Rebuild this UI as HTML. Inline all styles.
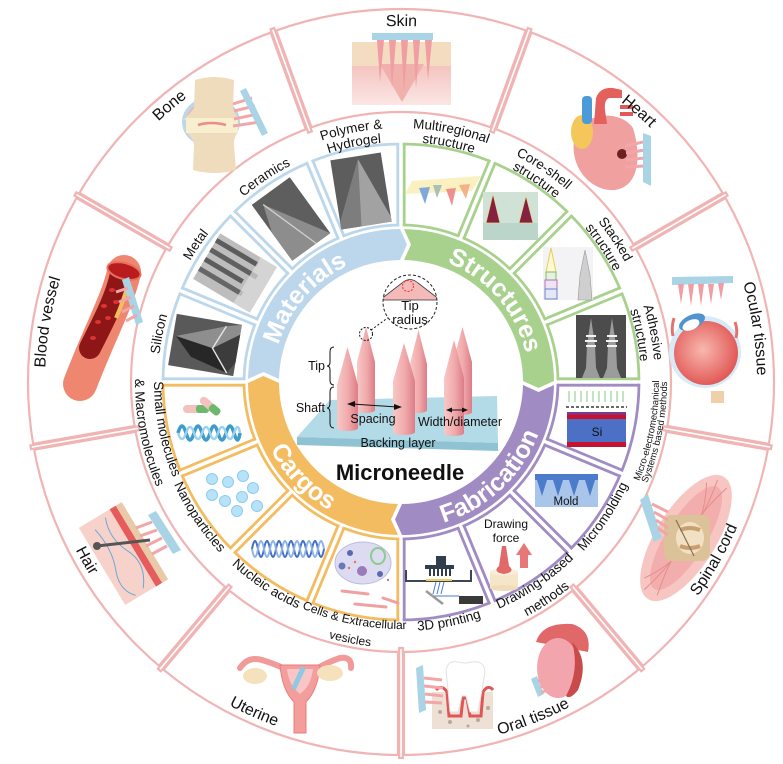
<!DOCTYPE html>
<html><head><meta charset="utf-8">
<style>
html,body{margin:0;padding:0;background:#fff;}
svg{display:block;}
text{font-family:"Liberation Sans",Arial,sans-serif;fill:#111;}
</style></head><body>
<svg width="783" height="764" viewBox="0 0 783 764" xmlns="http://www.w3.org/2000/svg">
<defs>
<path id="u243" d="M401,625A243,243 0 1 1 401,139A243,243 0 1 1 401,625"/>
<path id="u254" d="M401,636A254,254 0 1 1 401,128A254,254 0 1 1 401,636"/>
<path id="u240" d="M401,622A240,240 0 1 1 401,142A240,240 0 1 1 401,622"/>
<path id="u356" d="M401,738A356,356 0 1 1 401,26A356,356 0 1 1 401,738"/>
<path id="u128" d="M401,510A128,128 0 1 1 401,254A128,128 0 1 1 401,510"/>
<path id="l249" d="M401,133A249,249 0 1 0 401,631A249,249 0 1 0 401,133"/>
<path id="l247" d="M401,135A247,247 0 1 0 401,629A247,247 0 1 0 401,135"/>
<path id="l266" d="M401,116A266,266 0 1 0 401,648A266,266 0 1 0 401,116"/>
<path id="l258" d="M401,124A258,258 0 1 0 401,640A258,258 0 1 0 401,124"/>
<path id="l366" d="M401,16A366,366 0 1 0 401,748A366,366 0 1 0 401,16"/>
<path id="l147" d="M401,235A147,147 0 1 0 401,529A147,147 0 1 0 401,235"/>
<path id="band" d="M248,379 A153,153 0 0 1 400,229 L407,244.5 L400,260 A122,122 0 0 0 279,379 L263.5,372 Z"/>
<g id="od"><rect x="399.1" y="6" width="3.8" height="110" fill="#fff"/><line x1="398" y1="9" x2="398" y2="112"/><line x1="404" y1="9" x2="404" y2="112"/></g>
<linearGradient id="ng" x1="0" x2="1" y1="0" y2="0"><stop offset="0" stop-color="#f7c8c6"/><stop offset=".55" stop-color="#f0a9aa"/><stop offset="1" stop-color="#dc7d87"/></linearGradient>
<radialGradient id="eyeG" cx=".45" cy=".45" r=".6"><stop offset="0" stop-color="#f8b8b0"/><stop offset="1" stop-color="#e0524f"/></radialGradient>
<linearGradient id="skinG" x1="0" x2="0" y1="0" y2="1"><stop offset="0" stop-color="#f4c2be"/><stop offset="1" stop-color="#fbe6e4"/></linearGradient>
<clipPath id="tipc"><circle cx="410" cy="302" r="27"/></clipPath>
</defs>

<!-- organ ring -->
<g fill="none" stroke="#f1b4b4" stroke-width="2.2">
<circle cx="401" cy="382" r="373"/>
<circle cx="401" cy="382" r="270"/>
</g>
<g stroke="#f1b4b4" stroke-width="2.2">
<use href="#od" transform="rotate(-20 401 382)"/>
<use href="#od" transform="rotate(20 401 382)"/>
<use href="#od" transform="rotate(60 401 382)"/>
<use href="#od" transform="rotate(100 401 382)"/>
<use href="#od" transform="rotate(140 401 382)"/>
<use href="#od" transform="rotate(180 401 382)"/>
<use href="#od" transform="rotate(220 401 382)"/>
<use href="#od" transform="rotate(260 401 382)"/>
<use href="#od" transform="rotate(300 401 382)"/>
</g>

<!-- box arcs -->
<g fill="none" stroke-width="2.8">
<path d="M163,382A238,238 0 0 1 401,144M244,382A157,157 0 0 1 401,225" stroke="#bcd7ec"/>
<path d="M401,144A238,238 0 0 1 639,382M401,225A157,157 0 0 1 558,382" stroke="#a9d18e"/>
<path d="M639,382A238,238 0 0 1 401,620M558,382A157,157 0 0 1 401,539" stroke="#a08bc3"/>
<path d="M401,620A238,238 0 0 1 163,382M401,539A157,157 0 0 1 244,382" stroke="#f4bc61"/>
</g>
<g stroke-width="2.8">
<g transform="rotate(90 401 382)"><rect x="399.3" y="140" width="3.4" height="88" fill="#fff" stroke="none"/><line x1="397.8" y1="144" x2="397.8" y2="225" stroke="#a9d18e"/><line x1="404.2" y1="144" x2="404.2" y2="225" stroke="#a08bc3"/></g>
<g transform="rotate(112.5 401 382)"><rect x="399.3" y="140" width="3.4" height="88" fill="#fff" stroke="none"/><line x1="397.8" y1="144" x2="397.8" y2="225" stroke="#a08bc3"/><line x1="404.2" y1="144" x2="404.2" y2="225" stroke="#a08bc3"/></g>
<g transform="rotate(135 401 382)"><rect x="399.3" y="140" width="3.4" height="88" fill="#fff" stroke="none"/><line x1="397.8" y1="144" x2="397.8" y2="225" stroke="#a08bc3"/><line x1="404.2" y1="144" x2="404.2" y2="225" stroke="#a08bc3"/></g>
<g transform="rotate(157.5 401 382)"><rect x="399.3" y="140" width="3.4" height="88" fill="#fff" stroke="none"/><line x1="397.8" y1="144" x2="397.8" y2="225" stroke="#a08bc3"/><line x1="404.2" y1="144" x2="404.2" y2="225" stroke="#a08bc3"/></g>
<g transform="rotate(180 401 382)"><rect x="399.3" y="140" width="3.4" height="88" fill="#fff" stroke="none"/><line x1="397.8" y1="144" x2="397.8" y2="225" stroke="#a08bc3"/><line x1="404.2" y1="144" x2="404.2" y2="225" stroke="#f4bc61"/></g>
<g transform="rotate(202.5 401 382)"><rect x="399.3" y="140" width="3.4" height="88" fill="#fff" stroke="none"/><line x1="397.8" y1="144" x2="397.8" y2="225" stroke="#f4bc61"/><line x1="404.2" y1="144" x2="404.2" y2="225" stroke="#f4bc61"/></g>
<g transform="rotate(225 401 382)"><rect x="399.3" y="140" width="3.4" height="88" fill="#fff" stroke="none"/><line x1="397.8" y1="144" x2="397.8" y2="225" stroke="#f4bc61"/><line x1="404.2" y1="144" x2="404.2" y2="225" stroke="#f4bc61"/></g>
<g transform="rotate(247.5 401 382)"><rect x="399.3" y="140" width="3.4" height="88" fill="#fff" stroke="none"/><line x1="397.8" y1="144" x2="397.8" y2="225" stroke="#f4bc61"/><line x1="404.2" y1="144" x2="404.2" y2="225" stroke="#f4bc61"/></g>
<g transform="rotate(270 401 382)"><rect x="399.3" y="140" width="3.4" height="88" fill="#fff" stroke="none"/><line x1="397.8" y1="144" x2="397.8" y2="225" stroke="#f4bc61"/><line x1="404.2" y1="144" x2="404.2" y2="225" stroke="#bcd7ec"/></g>
<g transform="rotate(292.5 401 382)"><rect x="399.3" y="140" width="3.4" height="88" fill="#fff" stroke="none"/><line x1="397.8" y1="144" x2="397.8" y2="225" stroke="#bcd7ec"/><line x1="404.2" y1="144" x2="404.2" y2="225" stroke="#bcd7ec"/></g>
<g transform="rotate(315 401 382)"><rect x="399.3" y="140" width="3.4" height="88" fill="#fff" stroke="none"/><line x1="397.8" y1="144" x2="397.8" y2="225" stroke="#bcd7ec"/><line x1="404.2" y1="144" x2="404.2" y2="225" stroke="#bcd7ec"/></g>
<g transform="rotate(337.5 401 382)"><rect x="399.3" y="140" width="3.4" height="88" fill="#fff" stroke="none"/><line x1="397.8" y1="144" x2="397.8" y2="225" stroke="#bcd7ec"/><line x1="404.2" y1="144" x2="404.2" y2="225" stroke="#bcd7ec"/></g>
<g><rect x="399.3" y="140" width="3.4" height="88" fill="#fff" stroke="none"/><line x1="397.8" y1="144" x2="397.8" y2="225" stroke="#bcd7ec"/><line x1="404.2" y1="144" x2="404.2" y2="225" stroke="#a9d18e"/></g>
<g transform="rotate(22.5 401 382)"><rect x="399.3" y="140" width="3.4" height="88" fill="#fff" stroke="none"/><line x1="397.8" y1="144" x2="397.8" y2="225" stroke="#a9d18e"/><line x1="404.2" y1="144" x2="404.2" y2="225" stroke="#a9d18e"/></g>
<g transform="rotate(45 401 382)"><rect x="399.3" y="140" width="3.4" height="88" fill="#fff" stroke="none"/><line x1="397.8" y1="144" x2="397.8" y2="225" stroke="#a9d18e"/><line x1="404.2" y1="144" x2="404.2" y2="225" stroke="#a9d18e"/></g>
<g transform="rotate(67.5 401 382)"><rect x="399.3" y="140" width="3.4" height="88" fill="#fff" stroke="none"/><line x1="397.8" y1="144" x2="397.8" y2="225" stroke="#a9d18e"/><line x1="404.2" y1="144" x2="404.2" y2="225" stroke="#a9d18e"/></g>
</g>

<!-- bands -->
<use href="#band" fill="#bcd7ec"/>
<use href="#band" fill="#a9d18e" transform="rotate(90 401 382)"/>
<use href="#band" fill="#a08bc3" transform="rotate(180 401 382)"/>
<use href="#band" fill="#f4bc61" transform="rotate(270 401 382)"/>
<g font-size="25" font-weight="bold" style="fill:#fff">
<text style="fill:#fff"><textPath href="#u128" startOffset="292.7" text-anchor="middle">Materials</textPath></text>
<text style="fill:#fff"><textPath href="#u128" startOffset="511.6" text-anchor="middle">Structures</textPath></text>
<text style="fill:#fff"><textPath href="#l147" startOffset="572.1" text-anchor="middle">Fabrication</textPath></text>
<text style="fill:#fff"><textPath href="#l147" startOffset="343.8" text-anchor="middle">Cargos</textPath></text>
</g>

<!-- Materials images -->
<g transform="translate(205,345) rotate(9.6)">
<rect x="-33" y="-26" width="66" height="52" fill="#595959"/>
<polygon points="-30,-4 18,-22 33,-26 33,-16 8,2" fill="#8e8e8e"/>
<polygon points="-30,-4 8,2 26,24 -12,14" fill="#272727"/>
<polygon points="8,2 33,-16 33,12 26,24" fill="#3c3c3c"/>
<polyline points="18,-22 8,2 26,24" fill="none" stroke="#e6e6e6" stroke-width="1.4"/>
</g>
<g transform="translate(235,273) rotate(30.8)">
<rect x="-33" y="-26.5" width="66" height="53" fill="#bdbdbd"/>
<rect x="-33" y="-21" width="48" height="5" fill="#5c5c5c"/>
<rect x="-33" y="-10" width="54" height="5" fill="#606060"/>
<rect x="-33" y="1" width="44" height="5" fill="#5c5c5c"/>
<rect x="-33" y="12" width="50" height="5" fill="#666"/>
<rect x="14" y="-26.5" width="19" height="53" fill="#dedede" opacity=".7"/>
</g>
<g transform="translate(291,219) rotate(-36)">
<rect x="-23.5" y="-34.5" width="47" height="69" fill="#5e5e5e"/>
<polygon points="-14,-28 23.5,34.5 -23.5,34.5 -23.5,0" fill="#8d8d8d"/>
<line x1="-14" y1="-28" x2="6" y2="34.5" stroke="#d0d0d0" stroke-width="1.3"/>
</g>
<g transform="translate(361,191) rotate(-9)">
<rect x="-25.5" y="-35" width="51" height="70" fill="#5d5d5d"/>
<polygon points="2,-32 25.5,30 25.5,35 -25.5,35 -25.5,28" fill="#a2a2a2"/>
<polygon points="2,-32 -25.5,28 -25.5,35 -5,35" fill="#7d7d7d"/>
</g>

<!-- Structures images -->
<polygon points="412,181 481,176 472,191 405,194" fill="#fbf0bf"/>
<polygon points="419,188 430,187 425,204" fill="#7fa8dc"/>
<polygon points="433,185 442,185 437,198" fill="#a9c0b4"/>
<polygon points="446,189 456,188 452,206" fill="#ee9090"/>
<polygon points="459,185 470,184 466,199" fill="#f3b28a"/>
<rect x="483" y="192" width="55" height="48" fill="#d0e2d6"/>
<rect x="483" y="223" width="55" height="17" fill="#bcd5cb"/>
<polygon points="493,194 486,223 500,223" fill="#85203e" stroke="#e3d790" stroke-width=".7"/>
<polygon points="526,196 519,223 533,223" fill="#85203e" stroke="#e3d790" stroke-width=".7"/>
<rect x="543" y="247" width="50" height="53" fill="#f3f3f5"/>
<polygon points="551,248 546,272 556,272" fill="#fff8d4" stroke="#e5d050"/>
<rect x="546" y="272" width="10" height="8" fill="#e8f0e0" stroke="#7ac060"/>
<rect x="545" y="280" width="12" height="9" fill="#eee4f0" stroke="#b070c0"/>
<rect x="545" y="289" width="12" height="10" fill="#e4e8f4" stroke="#7080d0"/>
<path d="M585,250 L580,275 L578,300 L592,300 L590,275 Z" fill="#cfcfcf" stroke="#9a9a9a" stroke-width=".6"/>
<rect x="576" y="315" width="50" height="63" fill="#4c4c4c"/>
<path d="M591,318 L587,345 L586,368 L582,378 L600,378 L596,368 L595,345 Z" fill="#9c9c9c"/>
<path d="M612,318 L608,345 L607,368 L603,378 L621,378 L617,368 L616,345 Z" fill="#9c9c9c"/>
<path d="M586,336h10M585,341h12M586,346h10M607,336h10M606,341h12M607,346h10" stroke="#f4f4f4" stroke-width="2"/>

<!-- Fabrication images -->
<path d="M569,391v11M575,391v11M581,391v11M587,391v11M593,391v11M599,391v11M605,391v11M611,391v11M617,391v11M623,391v11" stroke="#7ac47a" stroke-width=".9"/>
<line x1="566" y1="407" x2="627" y2="407" stroke="#111" stroke-dasharray="3,2" stroke-width="1.2"/>
<rect x="567" y="412" width="59" height="2.5" fill="#7a3b96"/>
<rect x="567" y="414.5" width="59" height="4.5" fill="#c4122f"/>
<rect x="567" y="419" width="59" height="23" fill="#4b70c6"/>
<rect x="567" y="442" width="59" height="5" fill="#c4122f"/>
<text x="597" y="436" font-size="12" text-anchor="middle">Si</text>
<rect x="535" y="474" width="63" height="33" fill="#a9c6ea"/>
<polygon points="535,474 598,474 598,480 595,480 590,496 585,480 579,480 574,496 569,480 563,480 558,496 553,480 547,480 542,496 537,480 535,480" fill="#4d7bcc"/>
<text x="566" y="505" font-size="11.5" text-anchor="middle">Mold</text>
<text x="506" y="528" font-size="12" text-anchor="middle">Drawing</text>
<text x="506" y="542" font-size="12" text-anchor="middle">force</text>
<rect x="490" y="572" width="28" height="16" fill="#f6e6c8"/>
<ellipse cx="504" cy="588" rx="14" ry="3" fill="#f0dcb8"/>
<ellipse cx="504" cy="572" rx="14" ry="3.5" fill="#f8eed8"/>
<path d="M502,546 L506,546 L509,566 Q516,572 504,574 Q492,572 499,566 Z" fill="#e06a6a"/>
<rect x="520" y="553" width="8" height="15" fill="#e87878"/>
<polygon points="516,555 532,555 524,543" fill="#e87878"/>
<rect x="436" y="556" width="10" height="9" fill="#2f3d4c"/>
<rect x="425" y="565" width="29" height="4" fill="#2f3d4c"/>
<path d="M430,569v7M434,569v7M438,569v7M442,569v7M446,569v7M450,569v7" stroke="#2f3d4c" stroke-width="2"/>
<path d="M406,570 V581 H471 V570" fill="none" stroke="#3b4656" stroke-width="2"/>
<line x1="426" y1="580" x2="452" y2="580" stroke="#f2d060" stroke-width="2"/>
<path d="M433,594 L436,582M437,594 L440,582M441,594 L444,582M432,596 H459" stroke="#4a7ad8" stroke-width="1"/>
<line x1="426" y1="591" x2="443" y2="604" stroke="#9a9a9a" stroke-width="2.5"/>
<rect x="459" y="596" width="24" height="8" fill="#3a3a3a"/>

<!-- Cargos images -->
<rect x="183" y="405" width="26" height="8" rx="4" fill="#f3c2bd"/>
<rect x="196" y="405" width="13" height="8" rx="3" fill="#6cb86c"/>
<g transform="rotate(40 210 406)"><rect x="198" y="402" width="24" height="8" rx="4" fill="#f3c2bd"/><rect x="210" y="402" width="12" height="8" rx="3" fill="#6cb86c"/></g>
<path d="M178,433 q4,-14 8,0 t8,0 t8,0 t8,0 t8,0 t8,0 t8,0 t6,0" fill="none" stroke="#3e9cc8" stroke-width="3.5"/>
<path d="M178,433 q4,12 8,0 t8,0 t8,0 t8,0 t8,0 t8,0 t8,0 t6,0" fill="none" stroke="#9ad2ec" stroke-width="2.5"/>
<g fill="#b8e2f8" stroke="#8cccef" stroke-width="1">
<circle cx="212" cy="479" r="5.5"/><circle cx="228" cy="482" r="5.5"/><circle cx="243" cy="476" r="5.5"/>
<circle cx="253" cy="488" r="5.5"/><circle cx="212" cy="495" r="5.5"/><circle cx="225" cy="501" r="5.5"/>
<circle cx="242" cy="497" r="5.5"/><circle cx="257" cy="506" r="5.5"/><circle cx="237" cy="511" r="5.5"/>
</g>
<path d="M252,549 q3,-16 6,0 t6,0 t6,0 t6,0 t6,0 t6,0 t6,0 t6,0 t6,0 t6,0 t6,0 t6,0" fill="none" stroke="#3f6fc4" stroke-width="2"/>
<path d="M252,549 q3,16 6,0 t6,0 t6,0 t6,0 t6,0 t6,0 t6,0 t6,0 t6,0 t6,0 t6,0 t6,0" fill="none" stroke="#8fb2e4" stroke-width="2"/>
<ellipse cx="363" cy="563" rx="28" ry="21" fill="#dcdbf2" stroke="#bdbde0"/>
<circle cx="350" cy="553" r="3" fill="#5a6ab0"/><circle cx="362" cy="571" r="5" fill="#9a7ab8"/>
<circle cx="342" cy="566" r="3.5" fill="#6a78b8"/><circle cx="380" cy="574" r="3" fill="#5a6ab0"/>
<ellipse cx="378" cy="556" rx="7" ry="8" fill="none" stroke="#8ccc8c" stroke-width="2"/>
<circle cx="355" cy="562" r="1.2" fill="#e87060"/><circle cx="349" cy="568" r="1.2" fill="#e87060"/><circle cx="388" cy="580" r="1.2" fill="#e87060"/>
<path d="M342,591 L368,594 M355,604 L386,607 M383,598 L398,603" stroke="#f0a0a0" stroke-width="3" stroke-linecap="round"/>

<!-- Organ images -->
<!-- Skin -->
<rect x="352" y="64" width="99" height="41" fill="url(#skinG)"/>
<rect x="352" y="42" width="99" height="24" fill="#f3dcbf"/>
<path d="M380,64 L402,102 L424,64 Z" fill="#f0b1ad"/>
<rect x="372" y="33" width="61" height="7" fill="#a8d4e6"/>
<g fill="#ef9ea3"><polygon points="377,40 384,40 380,82"/><polygon points="389,40 396,40 392,88"/><polygon points="401,40 408,40 404,92"/><polygon points="413,40 420,40 416,88"/><polygon points="425,40 432,40 428,80"/></g>
<!-- Bone -->
<ellipse cx="211" cy="122" rx="29" ry="25" fill="#bcd6ec"/>
<ellipse cx="211" cy="122" rx="25" ry="21" fill="#f3b2ae"/>
<path d="M195,80 Q214,74 234,80 L233,108 Q236,116 240,120 L183,120 Q190,114 194,108 Z" fill="#efdcbc"/>
<path d="M186,132 L238,132 Q233,139 234,146 L236,170 Q214,176 193,170 L194,146 Q194,139 186,132 Z" fill="#efdcbc"/>
<rect x="186" y="118" width="52" height="15" fill="#f8efcf"/>
<path d="M198,125 Q211,121 226,125" stroke="#ee8a8a" stroke-width="2.5" fill="none"/>
<path d="M233,104 L252,98 M234,111 L255,106 M234,119 L258,114 M233,126 L260,122" stroke="#f2a6a8" stroke-width="3"/>
<polygon points="240,91 246,88 268,133 262,136" fill="#a8d4e6"/>
<!-- Heart -->
<path d="M576,132 C566,162 588,192 615,190 C642,186 640,150 633,128 C620,110 588,112 576,132 Z" fill="#f1a0a0"/>
<ellipse cx="582" cy="132" rx="11" ry="17" fill="#f4c75a"/>
<rect x="582" y="96" width="10" height="28" rx="4" fill="#4b9bd9"/>
<path d="M594,124 L596,98 Q600,87 613,88 L622,90 L622,98 L609,98 Q604,100 605,110 L607,124 Z" fill="#e4605c"/>
<rect x="620" y="105" width="13" height="4" fill="#e05a5a"/><rect x="620" y="112" width="13" height="4" fill="#e05a5a"/>
<circle cx="622" cy="154" r="5" fill="#6a2020"/>
<path d="M625,146 L643,142 M626,153 L645,150 M626,160 L645,158 M625,167 L645,166" stroke="#f2a6a8" stroke-width="3"/>
<polygon points="643,133 651,136 651,186 643,182" fill="#a8d4e6"/>
<!-- Ocular -->
<circle cx="705" cy="352" r="36" fill="#d6ebf7"/>
<circle cx="706" cy="353" r="32" fill="url(#eyeG)"/>
<ellipse cx="692" cy="322" rx="14" ry="7" fill="#4f94d0" transform="rotate(-25 692 322)"/>
<ellipse cx="691" cy="325" rx="9" ry="5" fill="#fff" transform="rotate(-25 691 325)"/>
<rect x="711" y="391" width="13" height="12" fill="#f0d0a8"/>
<polygon points="672,277 733,276 733,283 672,285" fill="#a8d4e6"/>
<g fill="#ef9ea3"><polygon points="678,284 684,284 681,304"/><polygon points="688,284 694,284 691,306"/><polygon points="698,284 704,284 701,306"/><polygon points="708,284 714,284 711,304"/><polygon points="718,283 724,283 721,300"/></g>
<path d="M674,318 Q671,328 673,336 M735,322 Q738,330 736,338" stroke="#e57070" stroke-width="3" fill="none"/>
<!-- Spinal cord -->
<g transform="rotate(-58 686 538)">
<ellipse cx="686" cy="538" rx="72" ry="30" fill="#f6c0bc" opacity=".9"/>
<ellipse cx="686" cy="538" rx="60" ry="20" fill="#f0a4a2" opacity=".7"/>
<path d="M620,530 Q686,548 752,534 M622,544 Q686,528 750,546 M630,524 Q686,560 744,526" stroke="#e88c8c" stroke-width="1" fill="none"/>
</g>
<rect x="664" y="515" width="46" height="46" rx="8" fill="#dcc298"/>
<ellipse cx="690" cy="538" rx="14" ry="16" fill="#f2e0c4"/>
<path d="M680,530 Q690,526 700,530 M680,546 Q690,550 700,546" stroke="#c8a070" stroke-width="4" fill="none"/>
<line x1="676" y1="520" x2="694" y2="556" stroke="#8a7050" stroke-width="1.2"/>
<polygon points="640,500 648,494 662,538 654,542" fill="#a8d4e6"/>
<path d="M652,504 L668,512 M654,512 L668,520 M656,520 L668,528 M658,528 L668,535" stroke="#f2a6a8" stroke-width="3"/>
<!-- Oral tissue -->
<rect x="432" y="692" width="61" height="37" fill="#eee0d4"/>
<g fill="#bba89a"><circle cx="440" cy="712" r="2"/><circle cx="450" cy="722" r="2"/><circle cx="478" cy="720" r="2"/><circle cx="488" cy="708" r="2"/><circle cx="468" cy="726" r="1.5"/></g>
<path d="M436,690 Q442,684 447,692 L449,716 L461,716 L463,698 L467,698 L470,716 L481,716 L483,692 Q488,684 493,690" fill="none" stroke="#e05555" stroke-width="3"/>
<path d="M446,670 Q448,660 458,662 Q465,664 472,662 Q484,660 485,672 L482,690 L478,712 L470,712 L466,696 L462,696 L458,712 L450,712 L448,690 Z" fill="#fff" stroke="#e2e2e2"/>
<polygon points="416,668 423,665 426,710 419,713" fill="#a8d4e6"/>
<path d="M424,678 L442,680 M424,686 L443,688 M425,694 L443,696 M425,702 L442,703" stroke="#f2a6a8" stroke-width="3"/>
<path d="M536,642 Q542,622 572,624 Q592,630 588,652 Z" fill="#e06868"/>
<ellipse cx="558" cy="668" rx="21" ry="30" fill="#f2a5ad"/>
<path d="M572,642 Q590,660 578,690 Q570,700 566,696 Q580,670 572,642 Z" fill="#c94a4a"/>
<polygon points="531,679 537,676 544,694 538,697" fill="#a8d4e6"/>
<path d="M538,681 L552,677 M540,687 L553,684 M541,692 L553,690" stroke="#f2a6a8" stroke-width="2.5"/>
<!-- Uterine -->
<path d="M240,668 Q248,656 262,660 Q275,664 283,668 M318,668 Q328,662 340,658 Q352,656 351,668" fill="none" stroke="#f29a9a" stroke-width="6" stroke-linecap="round"/>
<path d="M280,665 L320,665 Q318,690 306,702 L306,733 L294,733 L294,702 Q282,690 280,665 Z" fill="#f39d9d" stroke="#e87c7c"/>
<path d="M287,669 L313,669 Q311,686 300,694 Q289,686 287,669 Z" fill="#f8c6c6"/>
<ellipse cx="255" cy="676" rx="12" ry="8" fill="#f5e2bc"/>
<ellipse cx="330" cy="673" rx="13" ry="8" fill="#f5e2bc"/>
<rect x="296" y="666" width="5" height="24" fill="#8fc8e0" transform="rotate(25 298 678)"/>
<!-- Hair -->
<g transform="translate(126,552) rotate(59)">
<rect x="-45" y="-22" width="90" height="50" fill="#f7d2ca"/>
<rect x="-45" y="-22" width="90" height="7" fill="#e8c9a8"/>
<rect x="-45" y="-15" width="90" height="7" fill="#e65b5b"/>
<path d="M-40,0 Q-20,8 0,-2 T40,4 M-35,15 Q-10,10 10,18 T42,14" stroke="#6aa8d8" stroke-width="1" fill="none"/>
</g>
<line x1="97" y1="546" x2="150" y2="540" stroke="#555" stroke-width="3"/>
<circle cx="97" cy="546" r="4" fill="#555"/>
<polygon points="148,515 156,511 181,550 173,554" fill="#a8d4e6"/>
<path d="M152,522 L136,528 M157,530 L140,536 M162,538 L146,546 M167,546 L152,554" stroke="#f2a6a8" stroke-width="3"/>
<!-- Blood vessel -->
<path d="M124,272 C118,300 100,332 80,384" stroke="#ef8670" stroke-width="34" fill="none" stroke-linecap="round"/>
<path d="M121,274 C116,298 103,322 90,348" stroke="#8e1616" stroke-width="22" fill="none" stroke-linecap="round"/>
<ellipse cx="124" cy="271" rx="17" ry="8" fill="#b81c1c" stroke="#e87060" stroke-width="2" transform="rotate(15 124 271)"/>
<g fill="#dc3434"><ellipse cx="112" cy="290" rx="3" ry="2"/><ellipse cx="104" cy="306" rx="3" ry="2"/><ellipse cx="116" cy="302" rx="3" ry="2"/><ellipse cx="98" cy="322" rx="3" ry="2"/><ellipse cx="108" cy="318" rx="3" ry="2"/><ellipse cx="93" cy="338" rx="3" ry="2"/></g>
<path d="M128,284 Q124,300 116,318" stroke="#f0c060" stroke-width="4" fill="none"/>
<polygon points="122,280 129,277 143,322 136,325" fill="#a8d4e6"/>
<path d="M128,288 L116,292 M131,297 L119,302 M134,306 L122,312 M137,315 L126,321" stroke="#f2a6a8" stroke-width="3"/>

<!-- Center illustration -->
<polygon points="330,400 497,396 498,443 297,437" fill="#b3dae7"/>
<polygon points="297,437 498,443 498,451 297,445" fill="#8fc3d3"/>
<path d="M357,410 L357,362 L366,327 L375,362 L375,410 A9,3 0 0 1 357,410 Z" fill="url(#ng)"/>
<path d="M410,410 L410,364 L418.5,330 L427,364 L427,410 A8.5,3 0 0 1 410,410 Z" fill="url(#ng)"/>
<path d="M453,412 L453,362 L462.5,327 L472,362 L472,412 A9.5,3 0 0 1 453,412 Z" fill="url(#ng)"/>
<path d="M337,428 L337,385 L347.5,347 L358,385 L358,428 A10.5,3 0 0 1 337,428 Z" fill="url(#ng)"/>
<path d="M393,432 L393,381 L404,343 L415,381 L415,432 A11,3 0 0 1 393,432 Z" fill="url(#ng)"/>
<path d="M444,433 L444,378 L454,340 L464,378 L464,433 A10,3 0 0 1 444,433 Z" fill="url(#ng)"/>
<g stroke="#111" stroke-width="1" fill="none">
<path d="M334,347 Q330,347 330,352 L330,362 Q330,366 327,366 Q330,366 330,370 L330,380 Q330,385 334,385"/>
<path d="M334,387 Q330,387 330,392 L330,403 Q330,408 327,408 Q330,408 330,413 L330,423 Q330,428 334,428"/>
<line x1="352" y1="404" x2="397" y2="407"/>
<line x1="450" y1="410" x2="464" y2="410"/>
<line x1="371" y1="330" x2="389" y2="317" stroke-dasharray="2,2"/>
<circle cx="366" cy="334" r="6.5" stroke-dasharray="2,1.5"/>
</g>
<polygon points="347,404 355,401 355,407" fill="#111"/>
<polygon points="402,407 394,404 394,410" fill="#111"/>
<polygon points="446,410 452,407.5 452,412.5" fill="#111"/>
<polygon points="468,410 462,407.5 462,412.5" fill="#111"/>
<circle cx="410" cy="302" r="27" fill="#fff"/>
<path d="M380,300 L402,283 Q410,276 418,283 L440,300 Z" fill="#f4b9b9" stroke="#333" stroke-width=".8" clip-path="url(#tipc)"/>
<circle cx="408" cy="286" r="5.5" fill="none" stroke="#e33" stroke-width="1" stroke-dasharray="2,1.5"/>
<circle cx="410" cy="302" r="27" fill="none" stroke="#222" stroke-width="1" stroke-dasharray="3,2"/>
<text x="410" y="310" font-size="13" text-anchor="middle">Tip</text>
<text x="410" y="324" font-size="13" text-anchor="middle">radius</text>
<text x="325" y="370" font-size="12.5" text-anchor="end">Tip</text>
<text x="325" y="412" font-size="12.5" text-anchor="end">Shaft</text>
<text x="373" y="423" font-size="12.5" text-anchor="middle">Spacing</text>
<text x="460" y="426" font-size="12.5" text-anchor="middle">Width/diameter</text>
<text x="398" y="447" font-size="12.5" text-anchor="middle">Backing layer</text>
<text x="400" y="480" font-size="22" font-weight="bold" text-anchor="middle">Microneedle</text>

<!-- Category labels -->
<g font-size="13.5">
<text><textPath href="#u243" startOffset="429.4" text-anchor="middle">Silicon</textPath></text>
<text><textPath href="#u243" startOffset="524.8" text-anchor="middle">Metal</textPath></text>
<text><textPath href="#u243" startOffset="620.3" text-anchor="middle">Ceramics</textPath></text>
<text><textPath href="#u254" startOffset="748.1" text-anchor="middle">Polymer &amp;</textPath></text>
<text><textPath href="#u240" startOffset="706.9" text-anchor="middle">Hydrogel</textPath></text>
<text><textPath href="#u254" startOffset="847.9" text-anchor="middle">Multiregional</textPath></text>
<text><textPath href="#u240" startOffset="801.1" text-anchor="middle">structure</textPath></text>
<text><textPath href="#u254" startOffset="947.6" text-anchor="middle">Core-shell</textPath></text>
<text><textPath href="#u240" startOffset="895.4" text-anchor="middle">structure</textPath></text>
<text><textPath href="#u254" startOffset="1047.3" text-anchor="middle">Stacked</textPath></text>
<text><textPath href="#u240" startOffset="989.6" text-anchor="middle">structure</textPath></text>
<text><textPath href="#u254" startOffset="1147.1" text-anchor="middle">Adhesive</textPath></text>
<text><textPath href="#u240" startOffset="1083.9" text-anchor="middle">structure</textPath></text>
<text><textPath href="#l249" startOffset="1026.7" text-anchor="middle">Micromolding</textPath></text>
<text><textPath href="#l247" startOffset="921.5" text-anchor="middle">Drawing-based</textPath></text>
<text><textPath href="#l266" startOffset="992.3" text-anchor="middle">methods</textPath></text>
<text><textPath href="#l249" startOffset="831.1" text-anchor="middle">3D printing</textPath></text>
<text font-size="12"><textPath href="#l247" startOffset="727.5" text-anchor="middle">Cells &amp; Extracellular</textPath></text>
<text font-size="12"><textPath href="#l266" startOffset="783.4" text-anchor="middle">vesicles</textPath></text>
<text><textPath href="#l249" startOffset="635.6" text-anchor="middle">Nucleic acids</textPath></text>
<text><textPath href="#l249" startOffset="537.8" text-anchor="middle">Nanoparticles</textPath></text>
<text><textPath href="#l247" startOffset="436.5" text-anchor="middle">Small molecules</textPath></text>
<text><textPath href="#l266" startOffset="470" text-anchor="middle">&amp; Macromolecules</textPath></text>
</g>
<g font-size="9.5">
<text><textPath href="#l258" startOffset="1165.2" text-anchor="middle">Micro-electromechanical</textPath></text>
<text><textPath href="#l266" startOffset="1201.2" text-anchor="middle">Systems based methods</textPath></text>
</g>

<!-- Organ labels -->
<g font-size="16">
<text><textPath href="#u356" startOffset="1118.4" text-anchor="middle">Skin</textPath></text>
<text><textPath href="#u356" startOffset="1374.4" text-anchor="middle">Heart</textPath></text>
<text><textPath href="#u356" startOffset="1623.6" text-anchor="middle">Ocular tissue</textPath></text>
<text><textPath href="#u356" startOffset="618.8" text-anchor="middle">Blood vessel</textPath></text>
<text><textPath href="#u356" startOffset="869.9" text-anchor="middle">Bone</textPath></text>
<text><textPath href="#l366" startOffset="1535.6" text-anchor="middle">Spinal cord</textPath></text>
<text><textPath href="#l366" startOffset="1287.1" text-anchor="middle">Oral tissue</textPath></text>
<text><textPath href="#l366" startOffset="996.5" text-anchor="middle">Uterine</textPath></text>
<text><textPath href="#l366" startOffset="764" text-anchor="middle">Hair</textPath></text>
</g>
</svg>
</body></html>
